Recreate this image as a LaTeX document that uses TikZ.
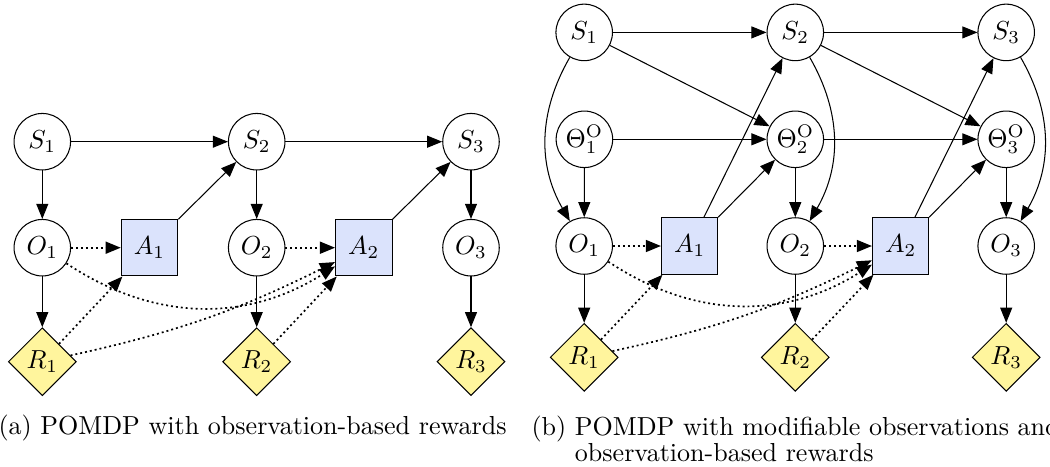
\documentclass[tikz,border=0pt]{standalone}
\usetikzlibrary{arrows.meta,shapes.geometric}
\definecolor{actblue}{RGB}{219,227,252}
\definecolor{rewyellow}{RGB}{255,245,157}
\begin{document}
\begin{tikzpicture}[x=0.384pt,y=0.384pt,
  >={Triangle[length=5.8pt,width=4.6pt]},
  stnode/.style={circle,draw,line width=0.4pt,minimum size=21.7pt,inner sep=0.5pt},
  actnode/.style={rectangle,draw,line width=0.4pt,fill=actblue,minimum size=21.7pt,inner sep=0pt},
  rewnode/.style={diamond,draw,line width=0.4pt,fill=rewyellow,minimum size=26.1pt,inner sep=0pt},
  arr/.style={->,line width=0.4pt},
  dotarr/.style={->,line width=0.65pt,dash pattern=on 0.75pt off 1.15pt},
  capt/.style={inner sep=0pt,font=\fontsize{10}{10}\selectfont}]
\useasboundingbox (0,0) rectangle (1050,-466);
% ---------- (a)
\node[stnode] (aS1) at (42.3,-141.7) {$S_1$};
\node[stnode] (aS2) at (256.7,-141.7) {$S_2$};
\node[stnode] (aS3) at (471,-141.7) {$S_3$};
\node[stnode] (aO1) at (42.3,-247.7) {$O_1$};
\node[stnode] (aO2) at (256.7,-247.7) {$O_2$};
\node[stnode] (aO3) at (471,-247.7) {$O_3$};
\node[actnode] (aA1) at (149.5,-247.7) {$A_1$};
\node[actnode] (aA2) at (363.8,-247.7) {$A_2$};
\node[rewnode] (aR1) at (42.3,-361.7) {$R_1$};
\node[rewnode] (aR2) at (256.7,-361.7) {$R_2$};
\node[rewnode] (aR3) at (471,-361.7) {$R_3$};
\draw[arr] (aS1) -- (aS2);
\draw[arr] (aS2) -- (aS3);
\draw[arr] (aS1) -- (aO1);
\draw[arr] (aS2) -- (aO2);
\draw[arr] (aS3) -- (aO3);
\draw[arr] (aO1) -- (aR1);
\draw[arr] (aO2) -- (aR2);
\draw[arr] (aO3) -- (aR3);
\draw[arr] (aA1) -- (aS2);
\draw[arr] (aA2) -- (aS3);
\draw[dotarr] (aO1) -- (aA1);
\draw[dotarr] (aO2) -- (aA2);
\draw[dotarr] (aR1) -- (aA1);
\draw[dotarr] (aR2) -- (aA2);
\draw[dotarr] (aO1) to[bend right=33] (aA2);
\draw[dotarr] (aR1) to[bend right=7] (aA2);
\node[capt,anchor=base west] (capa) at (-2,-434.5) {(a) POMDP with observation-based rewards};
% ---------- (b)
\node[stnode] (bS1) at (584.2,-32.4) {$S_1$};
\node[stnode] (bS2) at (795.3,-32.4) {$S_2$};
\node[stnode] (bS3) at (1006.2,-32.4) {$S_3$};
\node[stnode] (bT1) at (584.4,-139.3) {$\Theta^{\mathrm{O}}_1$};
\node[stnode] (bT2) at (795.3,-139.3) {$\Theta^{\mathrm{O}}_2$};
\node[stnode] (bT3) at (1006.2,-139.3) {$\Theta^{\mathrm{O}}_3$};
\node[stnode] (bO1) at (584.2,-246) {$O_1$};
\node[stnode] (bO2) at (795.3,-246) {$O_2$};
\node[stnode] (bO3) at (1006.2,-246) {$O_3$};
\node[actnode] (bA1) at (689.7,-246) {$A_1$};
\node[actnode] (bA2) at (900.7,-246) {$A_2$};
\node[rewnode] (bR1) at (584.2,-357.3) {$R_1$};
\node[rewnode] (bR2) at (795.3,-357.3) {$R_2$};
\node[rewnode] (bR3) at (1006.2,-357.3) {$R_3$};
\draw[arr] (bS1) -- (bS2);
\draw[arr] (bS2) -- (bS3);
\draw[arr] (bT1) -- (bT2);
\draw[arr] (bT2) -- (bT3);
\draw[arr] (bS1) -- (bT2);
\draw[arr] (bS2) -- (bT3);
\draw[arr] (bS1) to[bend right=30] (bO1);
\draw[arr] (bS2) to[bend left=30] (bO2);
\draw[arr] (bS3) to[bend left=30] (bO3);
\draw[arr] (bT1) -- (bO1);
\draw[arr] (bT2) -- (bO2);
\draw[arr] (bT3) -- (bO3);
\draw[arr] (bO1) -- (bR1);
\draw[arr] (bO2) -- (bR2);
\draw[arr] (bO3) -- (bR3);
\draw[arr] (bA1) -- (bS2);
\draw[arr] (bA1) -- (bT2);
\draw[arr] (bA2) -- (bS3);
\draw[arr] (bA2) -- (bT3);
\draw[dotarr] (bO1) -- (bA1);
\draw[dotarr] (bO2) -- (bA2);
\draw[dotarr] (bR1) -- (bA1);
\draw[dotarr] (bR2) -- (bA2);
\draw[dotarr] (bO1) to[bend right=33] (bA2);
\draw[dotarr] (bR1) to[bend right=7] (bA2);
\node[capt,anchor=base west,align=left] (capb) at (531,-461.5) {(b) POMDP with modifiable observations and\\\phantom{(b) }observation-based rewards};
\end{tikzpicture}
\end{document}
